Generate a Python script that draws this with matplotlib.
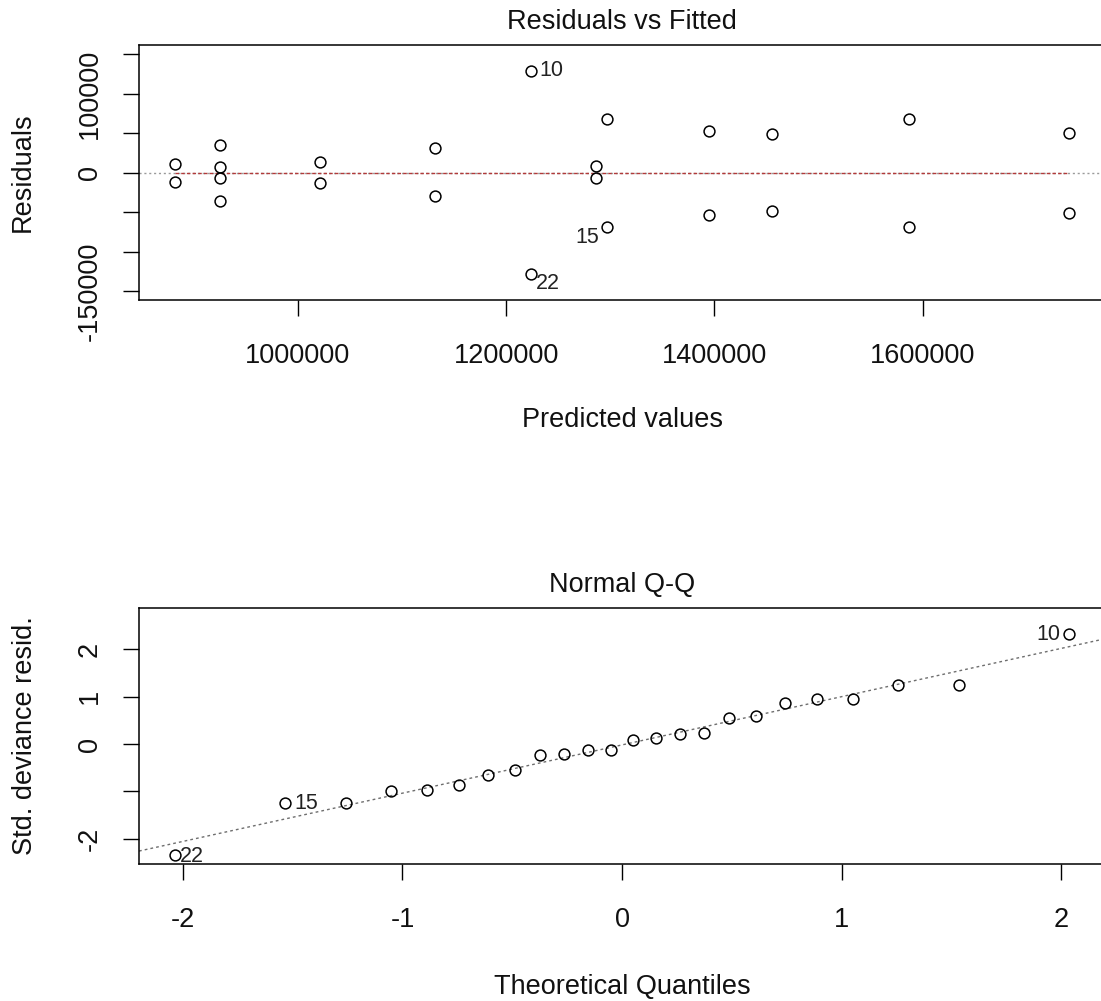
import numpy as np
import matplotlib
matplotlib.use("Agg")
import matplotlib.pyplot as plt

plt.rcParams["font.family"] = ["Liberation Sans", "DejaVu Sans"]

# ---- Residuals vs fitted: one entry per observation ----
fitted = [881818, 881818, 924916, 924916, 924916, 924916,
          1020875, 1020875, 1131650, 1131650, 1223569, 1223569,
          1286441, 1286441, 1296610, 1296610, 1394576, 1394576,
          1455593, 1455593, 1586441, 1586441, 1740678, 1740678]
residuals = [11000, -11400, 35080, 7600, -6340, -35900,
             13100, -13500, 30850, -29160, 128900, -128500,
             8900, -6340, 68470, -69300, 52830, -53680,
             48600, -48600, 68470, -69300, 50720, -51560]
rf_label_index = [10, 11, 15]
rf_label_text = ["10", "22", "15"]

rf_xticks = [1000000, 1200000, 1400000, 1600000]
rf_xticklabels = ["1000000", "1200000", "1400000", "1600000"]
rf_yticks = [-150000, -100000, -50000, 0, 50000, 100000, 150000]
rf_yticklabels = ["-150000", "", "", "0", "", "100000", ""]

# ---- Normal Q-Q: theoretical quantiles and sorted std. deviance residuals ----
theoretical_q = [-2.037, -1.534, -1.258, -1.054, -0.887, -0.742, -0.610, -0.489,
                 -0.375, -0.264, -0.157, -0.052, 0.052, 0.157, 0.264, 0.375,
                 0.489, 0.610, 0.742, 0.887, 1.054, 1.258, 1.534, 2.037]
std_resid = [-2.33, -1.25, -1.25, -0.995, -0.96, -0.87, -0.65, -0.55,
             -0.24, -0.21, -0.13, -0.13, 0.085, 0.135, 0.21, 0.24,
             0.55, 0.60, 0.87, 0.95, 0.95, 1.24, 1.24, 2.32]
qq_label_index = [0, 1, 23]
qq_label_text = ["22", "15", "10"]

qq_xticks = [-2, -1, 0, 1, 2]
qq_xticklabels = ["-2", "-1", "0", "1", "2"]
qq_yticks = [-2, -1, 0, 1, 2]
qq_yticklabels = ["-2", "", "0", "1", "2"]

W, H = 1101, 1001
fig = plt.figure(figsize=(W / 100, H / 100), dpi=100)
fig.patch.set_facecolor("white")


def add_axes_px(left, top, right, bottom):
    return fig.add_axes([left / W, 1 - bottom / H, (right - left) / W, (bottom - top) / H])


def padded(lo, hi, f=0.04):
    d = (hi - lo) * f
    return lo - d, hi + d


def style_axes(ax, xticks, xlabels, yticks, ylabels):
    for s in ax.spines.values():
        s.set_linewidth(1.1)
        s.set_color("black")
    ax.set_xticks(xticks)
    ax.set_xticklabels(xlabels)
    ax.set_yticks(yticks)
    ax.set_yticklabels(ylabels, rotation=90, va="center")
    ax.tick_params(direction="out", length=11.5, width=1.0, labelsize=19.5,
                   color="black", labelcolor="#111111")
    ax.tick_params(axis="x", pad=19.5)
    ax.tick_params(axis="y", pad=14.6)


TXT = dict(fontsize=19.5, color="#111111")
ID_SIZE = 15.5

# ---------------- Residuals vs Fitted ----------------
ax1 = add_axes_px(139, 45, 1105, 300)
fx = np.array(fitted, dtype=float)
ry = np.array(residuals, dtype=float)

ax1.set_xlim(*padded(fx.min(), fx.max()))
ylo, yhi = ry.min(), ry.max()
ext = (yhi - ylo) * 0.08
ax1.set_ylim(*padded(ylo - ext, yhi + ext))

ax1.axhline(0, color="#9a9a9a", lw=1.0, ls=(0, (1.5, 2.0)), zorder=1)
ax1.plot([fx.min(), fx.max()], [0, 0], color="#b23a3a", lw=1.0,
         ls=(0, (2.5, 1.6)), zorder=2)
ax1.plot(fx, ry, ls="none", marker="o", ms=7.8, mfc="none", mec="black",
         mew=1.1, zorder=3)

rf_offsets = {"10": (6.5, 0.0, "left"), "22": (3.8, -6.5, "left"),
              "15": (-5.5, -7.2, "right")}
for i, t in zip(rf_label_index, rf_label_text):
    dx, dy, ha = rf_offsets[t]
    ax1.annotate(t, (fx[i], ry[i]), xytext=(dx, dy), textcoords="offset points",
                 ha=ha, va="center", fontsize=ID_SIZE, color="#222222")

style_axes(ax1, rf_xticks, rf_xticklabels, rf_yticks, rf_yticklabels)
ax1.set_title("Residuals vs Fitted", y=1 + 23 / 255, va="center", pad=0, **TXT)
ax1.set_xlabel("Predicted values", va="center", **TXT)
ax1.xaxis.set_label_coords(0.5, -120 / 255)
ax1.set_ylabel("Residuals", va="center", ha="center", **TXT)
ax1.yaxis.set_label_coords((23 - 139) / 966, 0.5)

# ---------------- Normal Q-Q ----------------
ax2 = add_axes_px(139, 608, 1105, 864)
qx = np.array(theoretical_q)
qy = np.array(std_resid)

ax2.set_xlim(*padded(qx.min(), qx.max()))
qlo, qhi = qy.min(), qy.max()
ax2.set_ylim(*padded(qlo, qhi + (qhi - qlo) * 0.075))

# reference line through the first and third quartiles
q1, q3 = np.percentile(qy, [25, 75])
z = 0.6744897501960817
slope = (q3 - q1) / (2 * z)
intercept = q1 + z * slope
ax2.axline((0, intercept), slope=slope, color="#6e6e6e", lw=1.0,
           ls=(0, (2.0, 2.2)), zorder=1)
ax2.plot(qx, qy, ls="none", marker="o", ms=7.8, mfc="none", mec="black",
         mew=1.1, zorder=3)

qq_offsets = {"22": (4.0, -1.2, "left"), "15": (6.5, 0.0, "left"),
              "10": (-6.5, 0.0, "right")}
for i, t in zip(qq_label_index, qq_label_text):
    dx, dy, ha = qq_offsets[t]
    ax2.annotate(t, (qx[i], qy[i]), xytext=(dx, dy), textcoords="offset points",
                 ha=ha, va="center", fontsize=ID_SIZE, color="#222222")

style_axes(ax2, qq_xticks, qq_xticklabels, qq_yticks, qq_yticklabels)
ax2.set_title("Normal Q-Q", y=1 + 23 / 256, va="center", pad=0, **TXT)
ax2.set_xlabel("Theoretical Quantiles", va="center", **TXT)
ax2.xaxis.set_label_coords(0.5, -123 / 256)
ax2.set_ylabel("Std. deviance resid.", va="center", ha="center", **TXT)
ax2.yaxis.set_label_coords((25 - 139) / 966, 0.5)

fig.savefig("out.png", dpi=100, facecolor="white")
